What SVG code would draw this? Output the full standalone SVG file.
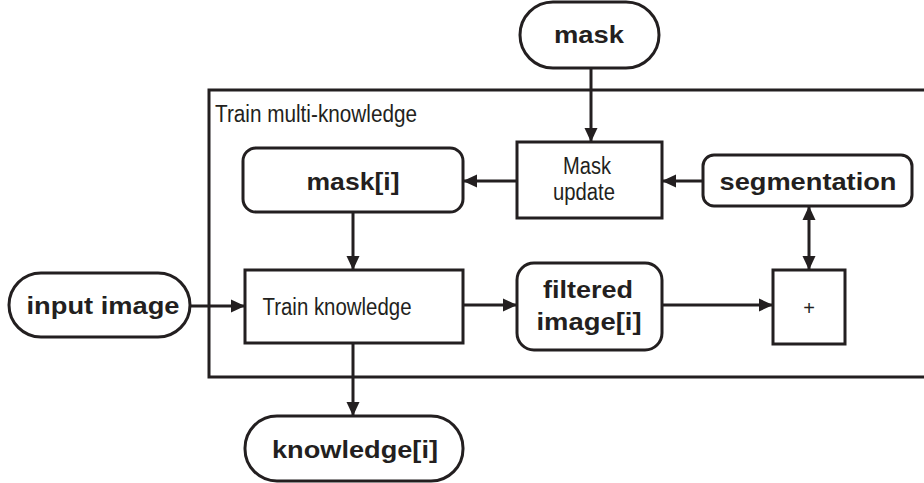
<svg xmlns="http://www.w3.org/2000/svg" width="924" height="483" viewBox="0 0 924 483">
<defs>
<marker id="ah" markerUnits="userSpaceOnUse" markerWidth="14" markerHeight="14" refX="13" refY="6.5" orient="auto-start-reverse" viewBox="0 0 14 13">
<path d="M0,0 L14,6.5 L0,13 z" fill="#231f20"/>
</marker>
</defs>
<style>
.s{fill:#fff;stroke:#231f20;stroke-width:3}
.c{fill:none;stroke:#231f20;stroke-width:3}
.b{font-family:"Liberation Sans",Arial,sans-serif;font-weight:bold;font-size:24px;fill:#231f20;text-anchor:middle}
.n{font-family:"Liberation Sans Narrow","Liberation Sans",Arial,sans-serif;font-size:23px;fill:#231f20;text-anchor:middle}
</style>
<rect width="924" height="483" fill="#fff"/>
<g id="container">
<path class="c" d="M924,90 H209 V377 H924"/>
<text class="n" x="215" y="122" style="text-anchor:start" textLength="202" lengthAdjust="spacingAndGlyphs">Train multi-knowledge</text>
</g>
<g id="connectors">
<path class="c" d="M591,68 V141" marker-end="url(#ah)"/>
<path class="c" d="M703,181 H663" marker-end="url(#ah)"/>
<path class="c" d="M517,181 H464" marker-end="url(#ah)"/>
<path class="c" d="M353,212 V269" marker-end="url(#ah)"/>
<path class="c" d="M190,306 H244" marker-end="url(#ah)"/>
<path class="c" d="M463,305 H516" marker-end="url(#ah)"/>
<path class="c" d="M662,305 H772" marker-end="url(#ah)"/>
<path class="c" d="M809,207 V269" marker-start="url(#ah)" marker-end="url(#ah)"/>
<path class="c" d="M353,343 V415" marker-end="url(#ah)"/>
</g>
<g id="mask">
<rect class="s" x="520" y="2" width="139" height="66" rx="33"/>
<text class="b" x="589" y="43" textLength="70" lengthAdjust="spacingAndGlyphs">mask</text>
</g>
<g id="mask-update">
<rect class="s" x="517" y="142" width="145" height="76"/>
<text class="n" x="587" y="174" textLength="48" lengthAdjust="spacingAndGlyphs">Mask</text>
<text class="n" x="584" y="200" textLength="62" lengthAdjust="spacingAndGlyphs">update</text>
</g>
<g id="segmentation">
<rect class="s" x="703" y="155" width="209" height="51" rx="11"/>
<text class="b" x="808" y="190" textLength="177" lengthAdjust="spacingAndGlyphs">segmentation</text>
</g>
<g id="mask-i">
<rect class="s" x="243" y="148" width="220" height="64" rx="13"/>
<text class="b" x="353" y="190" textLength="93" lengthAdjust="spacingAndGlyphs">mask[i]</text>
</g>
<g id="input-image">
<rect class="s" x="9" y="273" width="181" height="64" rx="32"/>
<text class="b" x="103" y="314" textLength="153" lengthAdjust="spacingAndGlyphs">input image</text>
</g>
<g id="train-knowledge">
<rect class="s" x="245" y="270" width="218" height="73"/>
<text class="n" x="337" y="315" textLength="149" lengthAdjust="spacingAndGlyphs">Train knowledge</text>
</g>
<g id="filtered-image">
<rect class="s" x="517" y="263" width="145" height="87" rx="17"/>
<text class="b" x="588" y="298" textLength="90" lengthAdjust="spacingAndGlyphs">filtered</text>
<text class="b" x="589" y="330" textLength="105" lengthAdjust="spacingAndGlyphs">image[i]</text>
</g>
<g id="plus">
<rect class="s" x="773" y="270" width="72" height="74"/>
<text class="n" x="809" y="315" style="font-size:20px">+</text>
</g>
<g id="knowledge-i">
<rect class="s" x="245" y="416" width="218" height="65" rx="32"/>
<text class="b" x="355" y="458" textLength="166" lengthAdjust="spacingAndGlyphs">knowledge[i]</text>
</g>
</svg>
